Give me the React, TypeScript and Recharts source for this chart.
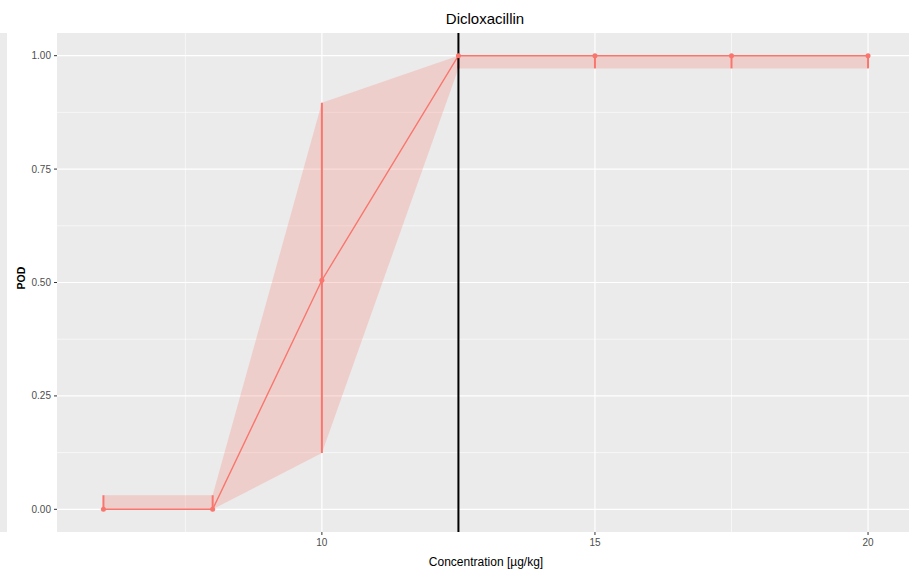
import React from 'react';
import {
  ComposedChart,
  Area,
  Line,
  ErrorBar,
  XAxis,
  YAxis,
  CartesianGrid,
  ReferenceLine,
} from 'recharts';

const concentrations = [6, 8, 10, 12.5, 15, 17.5, 20];
const podValues = [0, 0, 0.505, 1, 1, 1, 1];
const lowerCI = [0, 0, 0.124, 0.972, 0.972, 0.972, 0.972];
const upperCI = [0.031, 0.031, 0.896, 1, 1, 1, 1];
const xTicks = [10, 15, 20];
const xMinor = [7.5, 12.5, 17.5];
const yTicks = [0, 0.25, 0.5, 0.75, 1];
const yMinor = [0.125, 0.375, 0.625, 0.875];
const thresholdConc = 12.5;

const RED = '#F8766D';
const FONT = '"Liberation Sans", Arial, sans-serif';

const data = concentrations.map((c, i) => ({
  c,
  pod: podValues[i],
  ci: [lowerCI[i], upperCI[i]],
  err: [podValues[i] - lowerCI[i], upperCI[i] - podValues[i]],
}));

export default function App() {
  return (
    <div
      style={{
        position: 'absolute',
        left: 0,
        top: 0,
        width: 909,
        height: 574,
        background: '#fff',
        overflow: 'hidden',
      }}
    >
      <div
        style={{
          position: 'absolute',
          left: 0,
          top: 33,
          width: 7,
          height: 499,
          background: '#EBEBEB',
        }}
      />
      <ComposedChart
        width={909}
        height={574}
        data={data}
        margin={{ top: 33, right: 0, bottom: 0, left: 12 }}
      >
        <CartesianGrid
          fill="#EBEBEB"
          stroke="#ffffff"
          strokeWidth={0.6}
          horizontalValues={yMinor}
          verticalValues={xMinor}
        />
        <CartesianGrid
          stroke="#ffffff"
          strokeWidth={1.2}
          horizontalValues={yTicks}
          verticalValues={xTicks}
        />
        <XAxis
          type="number"
          dataKey="c"
          domain={[5.15, 20.75]}
          ticks={xTicks}
          allowDataOverflow
          axisLine={false}
          tickLine={{ stroke: '#333333' }}
          tickSize={3}
          tickMargin={4}
          height={42}
          tick={{ fill: '#4d4d4d', fontSize: 10, fontFamily: FONT }}
        />
        <YAxis
          type="number"
          domain={[-0.05, 1.05]}
          ticks={yTicks}
          allowDataOverflow
          axisLine={false}
          tickLine={{ stroke: '#333333' }}
          tickSize={3}
          tickMargin={3}
          width={45}
          tickFormatter={(v: number) => v.toFixed(2)}
          tick={{ fill: '#4d4d4d', fontSize: 10, fontFamily: FONT }}
        />
        <Area
          type="linear"
          dataKey="ci"
          stroke="none"
          fill={RED}
          fillOpacity={0.25}
          isAnimationActive={false}
          activeDot={false}
        />
        <Line
          type="linear"
          dataKey="pod"
          stroke={RED}
          strokeWidth={1.4}
          dot={{ r: 2.5, fill: RED, stroke: RED, strokeWidth: 0 }}
          activeDot={false}
          isAnimationActive={false}
        >
          <ErrorBar
            dataKey="err"
            direction="y"
            width={0}
            stroke={RED}
            strokeWidth={2}
            isAnimationActive={false}
          />
        </Line>
        <ReferenceLine x={thresholdConc} stroke="#000000" strokeWidth={2} />
      </ComposedChart>
      <svg
        width={909}
        height={574}
        style={{ position: 'absolute', left: 0, top: 0, pointerEvents: 'none' }}
      >
        <text x={485} y={24} textAnchor="middle" fontSize={15} fontFamily={FONT} fill="#000">
          Dicloxacillin
        </text>
        <text x={486} y={566} textAnchor="middle" fontSize={12} fontFamily={FONT} fill="#000">
          Concentration [µg/kg]
        </text>
        <text
          x={25}
          y={278}
          textAnchor="middle"
          fontSize={10.5}
          fontWeight="bold"
          fontFamily={FONT}
          fill="#000"
          transform="rotate(-90 25 278)"
        >
          POD
        </text>
      </svg>
    </div>
  );
}
